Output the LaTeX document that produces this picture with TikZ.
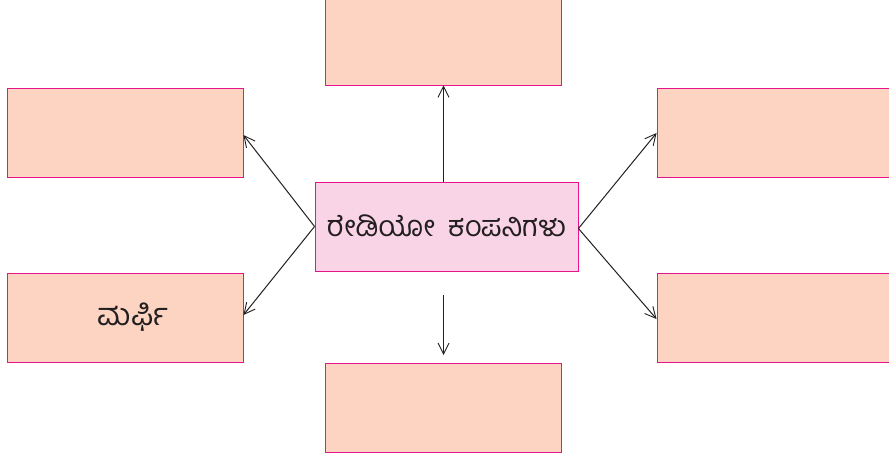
\documentclass[tikz,border=0pt]{standalone}
\usepackage{fontspec}
\newfontfamily\kanfont[Script=Kannada]{Hind Mysuru}
\usetikzlibrary{arrows.meta}
\definecolor{peach}{RGB}{252,212,193}
\definecolor{pinkfill}{RGB}{249,212,230}
\definecolor{magborder}{RGB}{232,20,140}
\definecolor{txt}{RGB}{35,31,32}
\tikzset{
  outbox/.style={draw=magborder, line width=0.9pt, fill=peach, minimum width=236pt, minimum height=89pt, inner sep=0pt},
  kantext/.style={font=\kanfont\fontsize{29}{32}\selectfont, text=txt},
  centbox/.style={draw=magborder, line width=0.9pt, fill=pinkfill, minimum width=263pt, minimum height=89pt, inner sep=0pt, kantext},
  conn/.style={draw=txt, line width=1pt, -{Straight Barb[length=11pt,width=11pt,line width=0.9pt]}}
}
\begin{document}
\begin{tikzpicture}[x=1pt,y=-1pt]
\useasboundingbox (0,0) rectangle (889,461);
\clip (0,0) rectangle (889,461);
\node[outbox] (top) at (443.5,40.5) {};
\node[outbox] (lt) at (125,133) {};
\node[outbox, kantext, font=\kanfont\fontsize{31}{34}\selectfont] (lb) at (125,317.5) {\hspace{16pt}ಮರ್ಫಿ};
\node[outbox, minimum width=238pt] (rt) at (776,133) {};
\node[outbox, minimum width=238pt] (rb) at (776,317.5) {};
\node[outbox] (bot) at (443.5,408) {};
\node[centbox] (c) at (446.5,226.5) {\raisebox{2pt}{ರೇಡಿಯೋ\hspace{6pt} ಕಂಪನಿಗಳು}};
\coordinate (ds) at (443.5,295);
\coordinate (de) at (443.5,355);
\draw[conn] (c.north -| top.south) -- (top.south);
\draw[conn] (c.west) -- ([yshift=-2pt]lt.east);
\draw[conn] (c.west) -- ([yshift=2.5pt]lb.east);
\draw[conn] ([yshift=-2pt]c.east) -- (rt.west);
\draw[conn] ([yshift=-2pt]c.east) -- ([yshift=-1.5pt]rb.west);
\draw[conn] (ds) -- (de);
\end{tikzpicture}
\end{document}
